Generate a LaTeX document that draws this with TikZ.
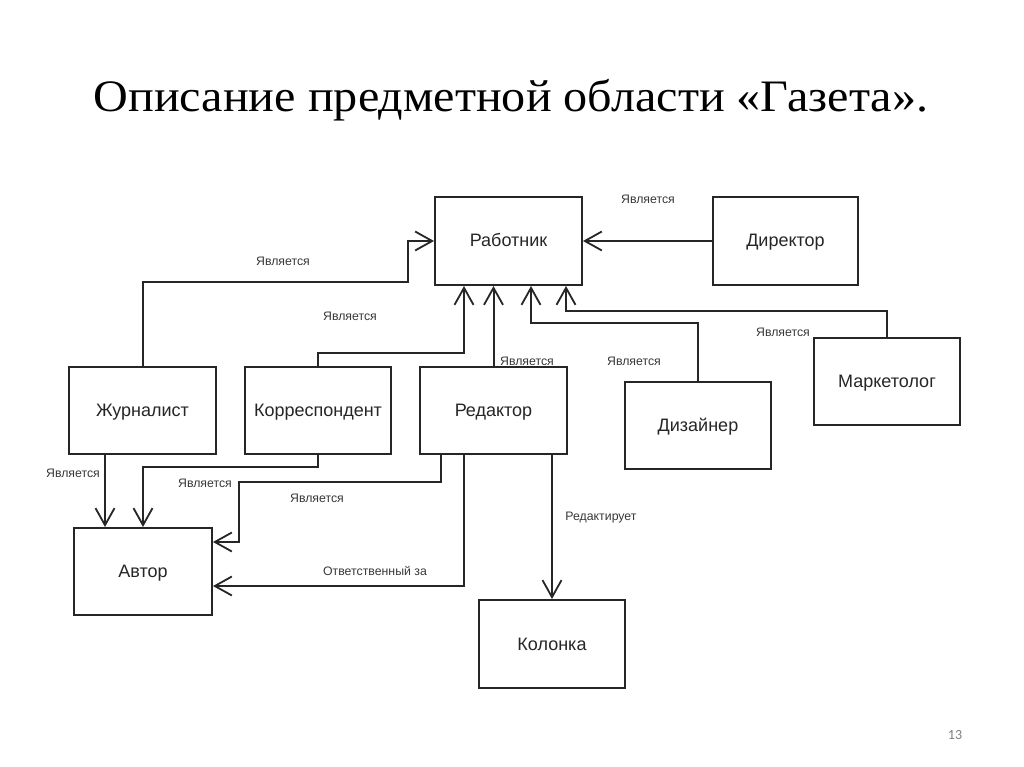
\documentclass[tikz,border=0pt]{standalone}
\usepackage{fontspec}
\setmainfont{Liberation Serif}
\newfontfamily\boxfont{Liberation Sans}
\newfontfamily\numfont{Carlito}
\usetikzlibrary{arrows.meta}
\definecolor{ink}{HTML}{262626}
\definecolor{labelgrey}{HTML}{383838}
\tikzset{
  entity/.style={draw=ink, line width=2pt, minimum width=146pt, minimum height=87pt,
    inner sep=0pt, text height=14pt, text depth=2pt,
    font=\boxfont\fontsize{18}{21}\selectfont, text=ink},
  rel/.style={draw=ink, line width=2pt, -{Straight Barb[length=17pt,width=19pt,line width=1.8pt]}},
  rlabel/.style={font=\boxfont\fontsize{12.3}{14}\selectfont, text=labelgrey, inner sep=0pt}
}
\begin{document}
\begin{tikzpicture}[x=1pt,y=-1pt]
\useasboundingbox (0,0) rectangle (1024,767);
\fill[white] (0,0) rectangle (1024,767);
% title
\node (title) at (511,100) {\scalebox{1.07}[1]{\fontsize{45}{54}\selectfont Описание предметной области «Газета».}};
\node[font=\numfont\fontsize{14}{16}\selectfont, text=gray] (page) at (955,735) {13};
% entities
\node[entity, minimum width=147pt, minimum height=88pt] (rab) at (508.5,241) {Работник};
\node[entity, minimum width=145pt, minimum height=88pt] (dir) at (785.5,241) {Директор};
\node[entity, minimum width=147pt] (jour) at (142.5,410.5) {Журналист};
\node[entity] (korr) at (318,410.5) {Корреспондент};
\node[entity, minimum width=147pt] (red) at (493.5,410.5) {Редактор};
\node[entity] (diz) at (698,425.5) {Дизайнер};
\node[entity] (mark) at (887,381.5) {Маркетолог};
\node[entity, minimum width=138pt] (avt) at (143,571.5) {Автор};
\node[entity, minimum height=88pt] (kol) at (552,644) {Колонка};
% connectors
\draw[rel] (jour.north) |- (408,282) |- (rab.west);
\draw[rel] (dir.west) -- (rab.east);
\draw[rel] (korr.north) |- (464,353) -- ([xshift=-44.5pt]rab.south);
\draw[rel] (red.north) -- (red.north |- rab.south);
\draw[rel] (diz.north) |- (531,323) -- ([xshift=22.5pt]rab.south);
\draw[rel] (mark.north) |- (566,311) -- ([xshift=57.5pt]rab.south);
\draw[rel] ([xshift=-37.5pt]jour.south) -- ([xshift=-38pt]avt.north);
\draw[rel] (korr.south) |- (143,467) -- (avt.north);
\draw[rel] ([xshift=-52.5pt]red.south) |- (239,482) |- ([yshift=29.5pt]avt.east);
\draw[rel] ([xshift=-29.5pt]red.south) |- ([yshift=-14.5pt]avt.east);
\draw[rel] ([xshift=58.5pt]red.south) -- (kol.north);
% labels
\node[rlabel] (l1) at (283,261) {Является};
\node[rlabel] (l2) at (648,199) {Является};
\node[rlabel] (l3) at (350,316) {Является};
\node[rlabel] (l4) at (527,361) {Является};
\node[rlabel] (l5) at (634,361) {Является};
\node[rlabel] (l6) at (783,332) {Является};
\node[rlabel] (l7) at (73,473) {Является};
\node[rlabel] (l8) at (205,483) {Является};
\node[rlabel] (l9) at (317,498) {Является};
\node[rlabel] (l10) at (375,571) {Ответственный за};
\node[rlabel] (l11) at (601,518) {Редактирует};
\end{tikzpicture}
\end{document}
